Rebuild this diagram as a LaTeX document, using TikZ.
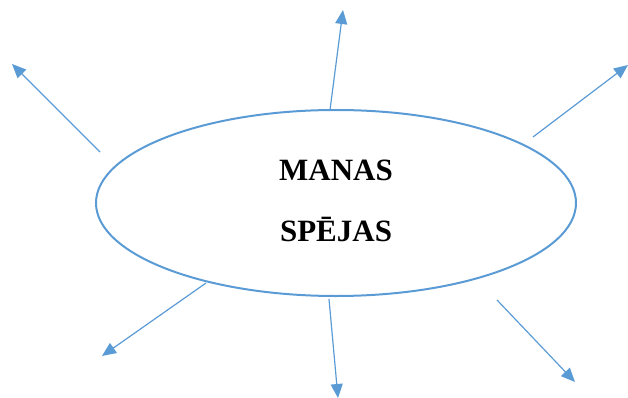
\documentclass[tikz,border=0pt]{standalone}
\usepackage{fontspec}
\setmainfont{Liberation Serif}
\usetikzlibrary{arrows.meta,shapes.geometric}
\definecolor{lineblue}{HTML}{5B9BD5}
\begin{document}
\begin{tikzpicture}[x=1pt,y=-1pt,
  ray/.style={draw=lineblue,line width=1.2pt,-{Triangle[length=14pt,width=12pt]}},
  label/.style={font=\fontsize{31}{31}\selectfont\bfseries,inner sep=0pt,anchor=base}]
\useasboundingbox (0,0) rectangle (628,398);
\node[ellipse,draw=lineblue,line width=2pt,minimum width=480pt,minimum height=186pt,inner sep=0pt] (ell) at (336,203) {};
\node[label] (t1) at (336,180) {MANAS};
\node[label] (t2) at (336,241) {SPĒJAS};
% ray start points just outside the ellipse, and their tips
\coordinate (s1) at (100,152); \coordinate (e1) at (12,64);
\coordinate (s2) at (330,110); \coordinate (e2) at (343,10);
\coordinate (s3) at (533,137); \coordinate (e3) at (628,65);
\coordinate (s4) at (206,283); \coordinate (e4) at (102,356);
\coordinate (s5) at (329,299); \coordinate (e5) at (338,398);
\coordinate (s6) at (497,300); \coordinate (e6) at (575,382);
\foreach \i in {1,...,6} \draw[ray] (s\i) -- (e\i);
\end{tikzpicture}
\end{document}
